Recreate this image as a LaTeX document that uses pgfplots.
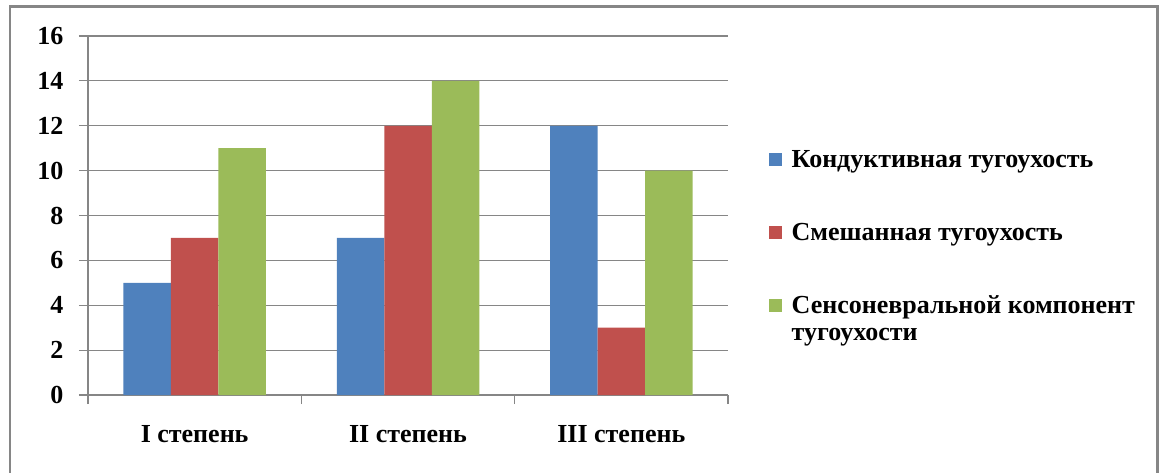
\documentclass[border=0pt]{standalone}
\usepackage{fontspec}
\setmainfont{Liberation Serif}
\usepackage{pgfplots}
\pgfplotsset{compat=1.18}
\definecolor{cblue}{RGB}{79,129,189}
\definecolor{cred}{RGB}{192,80,77}
\definecolor{cgreen}{RGB}{155,187,89}
\definecolor{gridgray}{RGB}{134,134,134}
\definecolor{bordergray}{RGB}{134,134,134}
\newcommand{\cf}{\fontsize{19.5}{20.25}\selectfont\bfseries}
\begin{document}
\begin{tikzpicture}
\path[use as bounding box] (0,0) rectangle (873pt,354pt);
\draw[color=bordergray, line width=2pt] (7.5pt,-5pt) rectangle (868pt,349pt);
\begin{axis}[
  at={(66pt,57.75pt)}, anchor=south west,
  scale only axis, width=480pt, height=269.25pt,
  ymin=0, ymax=16, ytick={0,2,...,16},
  xmin=-0.5, xmax=2.5,
  xtick={0,1,2}, xticklabels={I степень, II степень, III степень},
  minor xtick={-0.5,0.5,1.5,2.5},
  axis x line*=bottom, axis y line*=left,
  axis line style={draw=gridgray, line width=0.9pt, -},
  ymajorgrids, major grid style={draw=gridgray, line width=0.9pt},
  tick align=outside,
  major tick length=6.75pt, minor tick length=6.75pt,
  every major x tick/.append style={draw=none},
  every minor x tick/.append style={draw=gridgray, line width=0.9pt},
  every major y tick/.append style={draw=gridgray, line width=0.9pt},
  tick label style={font=\cf},
  /pgf/number format/assume math mode=true,
  yticklabel style={anchor=east, inner sep=0pt, xshift=-11.5pt},
  xticklabel style={anchor=base, inner sep=0pt, yshift=-28.5pt},
  legend image code/.code={\fill[#1,draw=none] (0pt,1.5pt) rectangle (9.75pt,11.25pt);},
  legend style={draw=none, fill=none, font=\cf, inner sep=0pt, outer sep=0pt,
    at={(1.0641,0.6889)}, anchor=north west,
    column sep=5.25pt, row sep={54.75pt,between origins},
    cells={anchor=base west, inner sep=0pt, text height=13pt}},
]
\addplot[ybar, bar width=35.625pt, bar shift=-35.625pt, fill=cblue, draw=none] coordinates {(0,5) (1,7) (2,12)};
\addplot[ybar, bar width=35.625pt, bar shift=0pt, fill=cred, draw=none] coordinates {(0,7) (1,12) (2,3)};
\addplot[ybar, bar width=35.625pt, bar shift=35.625pt, fill=cgreen, draw=none] coordinates {(0,11) (1,14) (2,10)};
\addlegendentry{Кондуктивная тугоухость}
\addlegendentry{Смешанная тугоухость}
\addlegendentry{\vtop{\hbox{Сенсоневральной компонент}\hbox{тугоухости}}}
\end{axis}
\end{tikzpicture}
\end{document}
